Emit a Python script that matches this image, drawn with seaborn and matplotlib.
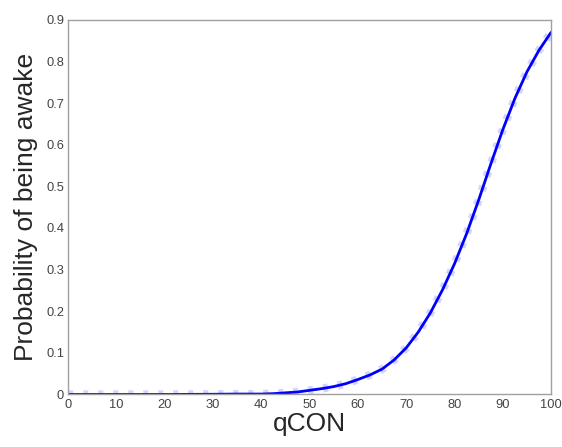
import matplotlib
matplotlib.use('Agg')
import matplotlib.pyplot as plt
import seaborn as sns
import pandas as pd

sns.set_style("white")
plt.rcParams['font.family'] = ['Liberation Sans', 'DejaVu Sans']

# Valores
qcon = [0, 10, 20, 30, 35, 40, 42.5, 45, 47.5, 50, 52.5, 55, 57.5, 60, 62.5, 65, 67.5,
        70, 72.5, 75, 77.5, 80, 82.5, 85, 87.5, 90, 92.5, 95, 97.5, 100]
prob = [0.0, 0.0, 0.0, 0.0005, 0.001, 0.001, 0.002, 0.004, 0.006, 0.010, 0.014, 0.019,
        0.026, 0.036, 0.047, 0.061, 0.083, 0.112, 0.150, 0.196, 0.251, 0.314, 0.386,
        0.467, 0.553, 0.636, 0.711, 0.775, 0.827, 0.870]
xticks = [0, 10, 20, 30, 40, 50, 60, 70, 80, 90, 100]
yticks = [0, 0.1, 0.2, 0.3, 0.4, 0.5, 0.6, 0.7, 0.8, 0.9]

df = pd.DataFrame({'qCON': qcon, 'prob': prob})

fig = plt.figure(figsize=(5.62, 4.47), dpi=100)
ax = fig.add_axes([0.1215, 0.1175, 0.859, 0.838])

# nube de puntos claros alrededor de la curva
sns.lineplot(data=df, x='qCON', y='prob', ax=ax, color='#b8b8ff', linewidth=6,
             linestyle=(0, (0.6, 1.2)), alpha=0.6)
sns.lineplot(data=df, x='qCON', y='prob', ax=ax, color='#0000ff', linewidth=2,
             solid_joinstyle='round')

ax.set_xlim(0, 100)
ax.set_ylim(0, 0.9)
ax.set_xticks(xticks)
ax.set_yticks(yticks)
ax.set_xticklabels([str(t) for t in xticks])
ax.set_yticklabels(['0'] + [f'{t:.1f}' for t in yticks[1:]])
ax.tick_params(direction='in', length=3, width=0.8, colors='#999999',
               labelcolor='#444444', labelsize=9.3, pad=3)
for s in ax.spines.values():
    s.set_color('#a0a0a0')
    s.set_linewidth(1)

ax.set_xlabel('qCON', fontsize=19, labelpad=1)
ax.set_ylabel('Probability of being awake', fontsize=19, labelpad=6)

plt.savefig('out.png', dpi=100)
plt.close()
